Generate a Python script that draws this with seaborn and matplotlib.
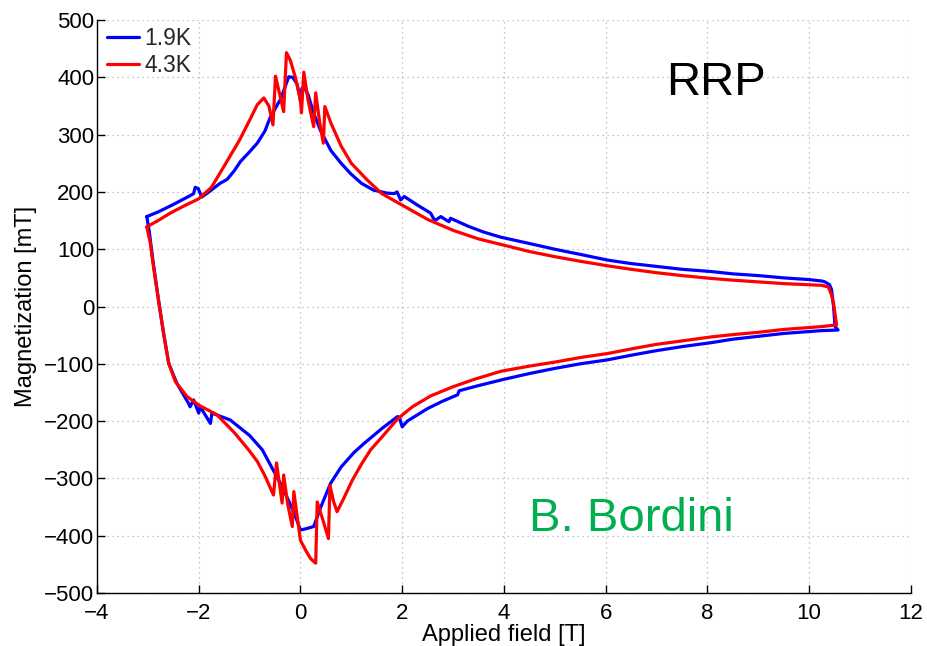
import numpy as np
import pandas as pd
import matplotlib
matplotlib.use("Agg")
import matplotlib.pyplot as plt
import seaborn as sns

# ---- data ----
x_19K = [-3.02, -2.8, -2.5, -2.2, -2.1, -2.07, -2.01, -1.94, -1.8, -1.58, -1.44, -1.3, -1.18, -1.0, -0.85, -0.7, -0.59,
         -0.39, -0.23, -0.15, -0.065, -0.01, 0.0, 0.03, 0.066, 0.15, 0.25, 0.39, 0.6, 0.8, 0.985, 1.2,
         1.44, 1.7, 1.84, 1.9, 1.97, 2.04, 2.3, 2.56, 2.62, 2.66, 2.76, 2.88, 2.92, 2.95, 3.3, 3.6, 3.94,
         4.5, 5.0, 5.5, 6.04, 6.5, 7.0, 7.5, 8.08, 8.5, 9.0, 9.5, 10.0, 10.25, 10.31, 10.4, 10.44, 10.48, 10.51, 10.57,
         10.25, 9.5, 9.0, 8.5, 8.08, 7.5, 7.0, 6.5, 6.04, 5.5, 5.0, 4.5, 4.0, 3.5, 3.12, 3.09, 2.8, 2.5, 2.1, 2.0, 1.95, 1.91, 1.6, 1.25,
         1.05, 0.8, 0.59, 0.4, 0.26, 0.1, 0.0, -0.07, -0.2, -0.39, -0.55, -0.75, -1.0, -1.38, -1.74,
         -1.77, -1.97, -2.0, -2.1, -2.17, -2.2, -2.43, -2.59, -2.69, -2.79, -2.9, -2.97, -3.02]
y_19K = [157, 165, 178, 192, 197, 208, 206, 191, 200, 215, 222, 237, 253, 270, 285, 306, 331,
         362, 401, 400, 388, 365, 358, 380, 384, 370, 340, 308, 272, 250, 232, 215,
         203, 198, 197, 200, 186, 192, 177, 163, 153, 151, 157, 150, 148, 154, 140, 130, 121,
         110, 100, 91, 81, 75, 70, 65, 61, 57, 54, 50, 47, 44.5, 43, 38, 30, 0, -35, -41,
         -42, -47, -52, -57, -63, -70, -77, -85, -93, -100, -108, -117, -127, -138, -147, -154, -165, -178, -200, -210, -195, -192, -213, -239,
         -255, -280, -309, -350, -384, -388, -390, -373, -345, -309, -283, -250, -225, -198, -186,
         -204, -175, -186, -163, -175, -169, -134, -99, -47, 11, 80, 130, 157]

x_43K = [-3.02, -2.8, -2.56, -2.3, -2.0, -1.75, -1.5, -1.2, -1.0, -0.85, -0.72, -0.62, -0.54, -0.49,
         -0.42, -0.33, -0.275, -0.2, -0.1, 0.0, 0.02, 0.066, 0.15, 0.26, 0.30, 0.38, 0.45, 0.48, 0.6,
         0.8, 1.0, 1.31, 1.6, 2.0, 2.5, 3.0, 3.5, 4.14, 4.5, 5.0, 5.5, 6.04, 6.5, 7.0, 7.5, 8.08, 8.5, 9.0, 9.5,
         10.0, 10.25, 10.38, 10.44, 10.48, 10.52, 10.54,
         10.25, 9.5, 9.0, 8.5, 8.08, 7.5, 7.0, 6.5, 6.04, 5.5, 5.0, 4.5, 3.94, 3.42, 3.0, 2.56, 2.2, 1.91, 1.6, 1.38, 1.2, 1.02, 0.85,
         0.72, 0.65, 0.58, 0.55, 0.45, 0.33, 0.30, 0.2, 0.1, 0.0, -0.13, -0.16, -0.25, -0.33, -0.36,
         -0.47, -0.53, -0.7, -0.85, -1.02, -1.3, -1.64, -2.0, -2.23, -2.46, -2.59, -2.69, -2.79, -2.89,
         -2.95, -3.02]
y_43K = [139, 150, 163, 175, 188, 208, 245, 290, 325, 352, 364, 350, 317, 402,
         375, 340, 443, 430, 400, 360, 338, 409, 360, 314, 373, 320, 285, 349, 320,
         280, 250, 221, 197, 177, 152, 133, 118, 104, 96, 87, 79, 71, 65, 59, 54, 49, 46, 43, 40,
         38, 37, 34, 20, 5, -20, -32,
         -35, -40, -45, -49, -53, -60, -66, -74, -82, -89, -97, -104, -113, -127, -140, -156, -175, -196, -228, -250, -275, -303, -335,
         -358, -340, -312, -405, -375, -341, -448, -440, -425, -408, -323, -384, -345, -294, -343,
         -273, -329, -295, -270, -250, -220, -189, -172, -157, -131, -99, -47, 11, 70,
         110, 139]

series_names = ["1.9K", "4.3K"]
x_ticks = [-4, -2, 0, 2, 4, 6, 8, 10, 12]
y_ticks = [-500, -400, -300, -200, -100, 0, 100, 200, 300, 400, 500]

# ---- build table ----
df = pd.concat([
    pd.DataFrame({"field": x_19K, "mag": y_19K, "T": series_names[0]}),
    pd.DataFrame({"field": x_43K, "mag": y_43K, "T": series_names[1]}),
], ignore_index=True)

sns.set_theme(style="white")
plt.rcParams["font.family"] = ["Liberation Sans", "DejaVu Sans"]

fig = plt.figure(figsize=(9.27, 6.46), dpi=100)
ax = fig.add_axes([0.1046, 0.082, 0.878, 0.887])

sns.lineplot(data=df, x="field", y="mag", hue="T", sort=False, estimator=None,
             palette={"1.9K": "#0000ff", "4.3K": "#ff0000"}, linewidth=2.3, ax=ax)

ax.set_xlim(-4, 12)
ax.set_ylim(-500, 500)
ax.set_xticks(x_ticks)
ax.set_yticks(y_ticks)
ax.grid(True, color="#b0b0b0", linestyle=(0, (1, 3)), linewidth=0.9)
for s in ["top", "right"]:
    ax.spines[s].set_visible(False)
for s in ["left", "bottom"]:
    ax.spines[s].set_color("black")
    ax.spines[s].set_linewidth(1.0)
ax.tick_params(direction="in", length=6, width=1.0, colors="black", labelsize=16,
               left=True, bottom=True)
ax.tick_params(axis="x", pad=7)
ax.tick_params(axis="y", pad=2)
ax.set_xlabel("Applied field [T]", fontsize=17, color="black", labelpad=0)
ax.set_ylabel("Magnetization [mT]", fontsize=17, color="black", labelpad=5)

ax.legend(loc="upper left", bbox_to_anchor=(-0.005, 1.012), frameon=False, fontsize=16.5,
          handlelength=1.4, handletextpad=0.25, labelspacing=0.2, borderaxespad=0.2)
ax.text(0.760, 0.89, "RRP", transform=ax.transAxes, fontsize=34, color="black",
        ha="center", va="center")
ax.text(0.657, 0.13, "B. Bordini", transform=ax.transAxes, fontsize=34,
        color="#00b050", ha="center", va="center")

fig.savefig("out.png", dpi=100, facecolor="white")
